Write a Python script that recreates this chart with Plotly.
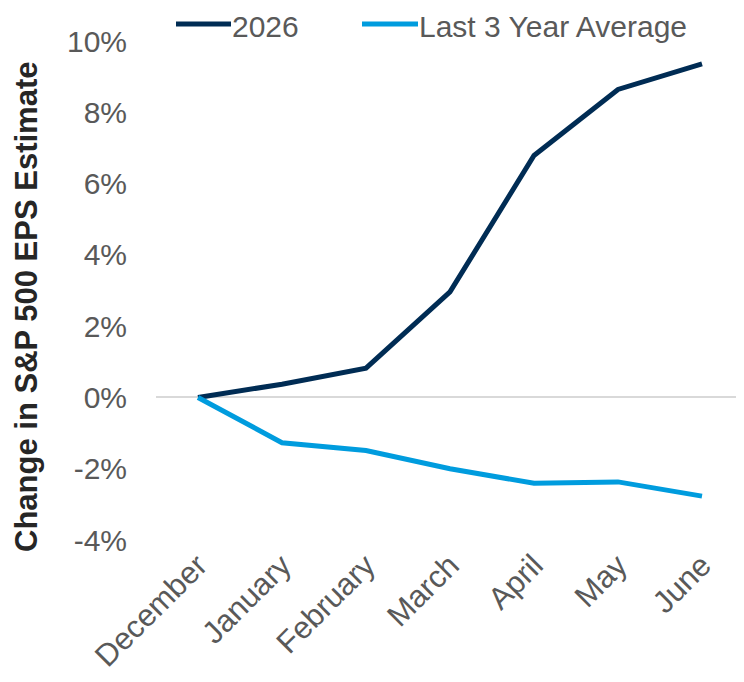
import plotly.graph_objects as go

# === Data (percent change vs December) ===
months = ["December", "January", "February", "March", "April", "May", "June"]
eps_2026 = [0.0, 0.37, 0.82, 2.96, 6.79, 8.64, 9.36]
eps_3yr_avg = [0.0, -1.27, -1.49, -2.0, -2.41, -2.37, -2.77]
y_ticks = [-4, -2, 0, 2, 4, 6, 8, 10]
y_tick_text = ["-4%", "-2%", "0%", "2%", "4%", "6%", "8%", "10%"]

# === Colors ===
NAVY = "#002C54"
BLUE = "#009CDE"
TICK_GREY = "#595959"
ZERO_GREY = "#D9D9D9"
FONT = "Arial, Liberation Sans, sans-serif"

# page body adds an 8px margin, so work in screen pixels minus that
PAGE = 8
W, H = 744, 682
L, T = 156 - PAGE, 41 - PAGE
PW, PH = 588, 499
R = W - L - PW
B = H - T - PH


def px_x(px):
    return (px - PAGE - L) / PW


def px_y(py):
    return (T + PH - (py - PAGE)) / PH


series = [
    ("2026", eps_2026, NAVY),
    ("Last 3 Year Average", eps_3yr_avg, BLUE),
]

fig = go.Figure()
for name, vals, color in series:
    fig.add_trace(go.Scatter(
        x=months, y=vals, name=name, mode="lines",
        line=dict(color=color, width=5),
    ))

# hand-made legend so the long Excel-style swatches fit
LEG_Y = 26
legend_spots = [(176, 231), (362, 418)]
for (x0, x1), (name, _, color) in zip(legend_spots, series):
    fig.add_shape(
        type="line", xref="paper", yref="paper",
        x0=px_x(x0), x1=px_x(x1), y0=px_y(LEG_Y - 2), y1=px_y(LEG_Y - 2),
        line=dict(color=color, width=5),
    )
    fig.add_annotation(
        text=name, xref="paper", yref="paper",
        x=px_x(x1), y=px_y(LEG_Y), xanchor="left", yanchor="middle",
        showarrow=False, borderpad=0,
        font=dict(family=FONT, size=30, color=TICK_GREY),
    )

# y-axis title
fig.add_annotation(
    text="<b>Change in S&P 500 EPS Estimate</b>",
    xref="paper", yref="paper", x=px_x(26), y=px_y(307),
    xanchor="center", yanchor="middle",
    textangle=-90, showarrow=False,
    font=dict(family=FONT, size=31, color="#262626"),
)

fig.update_layout(
    width=W, height=H,
    margin=dict(l=L, r=R, t=T, b=B),
    plot_bgcolor="white", paper_bgcolor="white",
    font=dict(family=FONT, size=30, color=TICK_GREY),
    showlegend=False,
    xaxis=dict(
        type="category",
        range=[-0.5, 6.5],
        tickangle=-45,
        showgrid=False, showline=False, ticks="",
        tickfont=dict(size=31, color=TICK_GREY),
        ticklabelstandoff=0,
        automargin=False,
    ),
    yaxis=dict(
        range=[-4, 10],
        tickvals=y_ticks, ticktext=y_tick_text,
        showgrid=False, showline=False, ticks="",
        zeroline=True, zerolinecolor=ZERO_GREY, zerolinewidth=2,
        tickfont=dict(size=30, color=TICK_GREY),
        ticklabelstandoff=28,
        automargin=False,
    ),
)

fig.write_html("out.html")
